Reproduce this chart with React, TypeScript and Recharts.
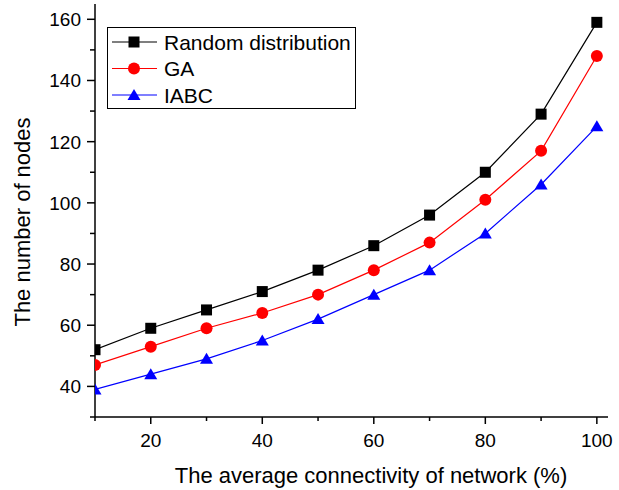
import React from 'react';
import { LineChart, Line, XAxis, YAxis, Label } from 'recharts';

// connectivity (%) on the x axis
const connectivity = [10, 20, 30, 40, 50, 60, 70, 80, 90, 100];
// number of nodes per method
const randomNodes = [52, 59, 65, 71, 78, 86, 96, 110, 129, 159];
const gaNodes = [47, 53, 59, 64, 70, 78, 87, 101, 117, 148];
const iabcNodes = [39, 44, 49, 55, 62, 70, 78, 90, 106, 125];

const xTicks = [10, 20, 30, 40, 50, 60, 70, 80, 90, 100];
const xLabels = [20, 40, 60, 80, 100];
const yTicks = [30, 40, 50, 60, 70, 80, 90, 100, 110, 120, 130, 140, 150, 160];
const yLabels = [40, 60, 80, 100, 120, 140, 160];

const data = connectivity.map((c, i) => ({
  c,
  random: randomNodes[i],
  ga: gaNodes[i],
  iabc: iabcNodes[i],
}));

const FONT = '"Liberation Sans", Arial, sans-serif';

const XTick = (props: any) => {
  const { x, y, payload } = props;
  const major = xLabels.includes(payload.value);
  return (
    <g>
      <line x1={x} y1={y} x2={x} y2={y + (major ? 7 : 4)} stroke="#000" strokeWidth={1.5} />
      {major && (
        <text x={x} y={y + 30} textAnchor="middle" fontSize={19} fontFamily={FONT} fill="#000">
          {payload.value}
        </text>
      )}
    </g>
  );
};

const YTick = (props: any) => {
  const { x, y, payload } = props;
  const major = yLabels.includes(payload.value);
  return (
    <g>
      <line x1={x} y1={y} x2={x - (major ? 8 : 5)} y2={y} stroke="#000" strokeWidth={1.5} />
      {major && (
        <text x={x - 14} y={y + 7} textAnchor="end" fontSize={19} fontFamily={FONT} fill="#000">
          {payload.value}
        </text>
      )}
    </g>
  );
};

const Square = ({ cx, cy, color }: any) => (
  <rect x={cx - 5.5} y={cy - 5.5} width={11} height={11} fill={color} />
);
const Circle = ({ cx, cy, color }: any) => <circle cx={cx} cy={cy} r={6} fill={color} />;
const Triangle = ({ cx, cy, color }: any) => (
  <path d={`M${cx},${cy - 6} L${cx + 6.5},${cy + 5} L${cx - 6.5},${cy + 5} Z`} fill={color} />
);

const series = [
  { key: 'random', name: 'Random distribution', color: '#000000', Marker: Square },
  { key: 'ga', name: 'GA', color: '#ff0000', Marker: Circle },
  { key: 'iabc', name: 'IABC', color: '#0000ff', Marker: Triangle },
];

const LegendBox = () => (
  <svg width={250} height={83} style={{ position: 'absolute', left: 107, top: 27 }}>
    <rect x={0.5} y={0.5} width={248} height={81} fill="#fff" stroke="#000" strokeWidth={1} />
    {series.map((s, i) => {
      const cy = 15 + i * 26.5;
      return (
        <g key={s.key}>
          <line x1={5} y1={cy} x2={50} y2={cy} stroke={s.color} strokeWidth={1.2} />
          <s.Marker cx={27} cy={cy} color={s.color} />
          <text x={57} y={cy + 7.5} fontSize={21} fontFamily={FONT} fill="#000">
            {s.name}
          </text>
        </g>
      );
    })}
  </svg>
);

const YTitle = () => (
  <text
    x={22}
    y={222}
    transform="rotate(-90, 22, 222)"
    textAnchor="middle"
    dominantBaseline="central"
    fontSize={22}
    fontFamily={FONT}
    fill="#000"
  >
    The number of nodes
  </text>
);

const XTitle = () => (
  <text x={371} y={483} textAnchor="middle" fontSize={22} fontFamily={FONT} fill="#000">
    The average connectivity of network (%)
  </text>
);

export default function App() {
  return (
    <div style={{ position: 'absolute', left: 0, top: 0, width: 619, height: 490, background: '#fff' }}>
      <LineChart width={619} height={490} data={data} margin={{ top: 4, right: 11, bottom: 0, left: 0 }}>
        <XAxis
          dataKey="c"
          type="number"
          domain={[10, 102]}
          ticks={xTicks}
          tick={<XTick />}
          tickLine={false}
          tickSize={0}
          tickMargin={0}
          height={73}
          axisLine={{ stroke: '#000', strokeWidth: 1.5 }}
          allowDataOverflow
        >
          <Label content={<XTitle />} />
        </XAxis>
        <YAxis
          type="number"
          domain={[30, 165]}
          ticks={yTicks}
          tick={<YTick />}
          tickLine={false}
          tickSize={0}
          tickMargin={0}
          width={95}
          axisLine={{ stroke: '#000', strokeWidth: 1.5 }}
          allowDataOverflow
        >
          <Label content={<YTitle />} />
        </YAxis>
        {series.map((s) => (
          <Line
            key={s.key}
            dataKey={s.key}
            name={s.name}
            stroke={s.color}
            strokeWidth={1.2}
            isAnimationActive={false}
            dot={(p: any) => <s.Marker key={`${s.key}-${p.index}`} cx={p.cx} cy={p.cy} color={s.color} />}
          />
        ))}
      </LineChart>
      <LegendBox />
    </div>
  );
}
